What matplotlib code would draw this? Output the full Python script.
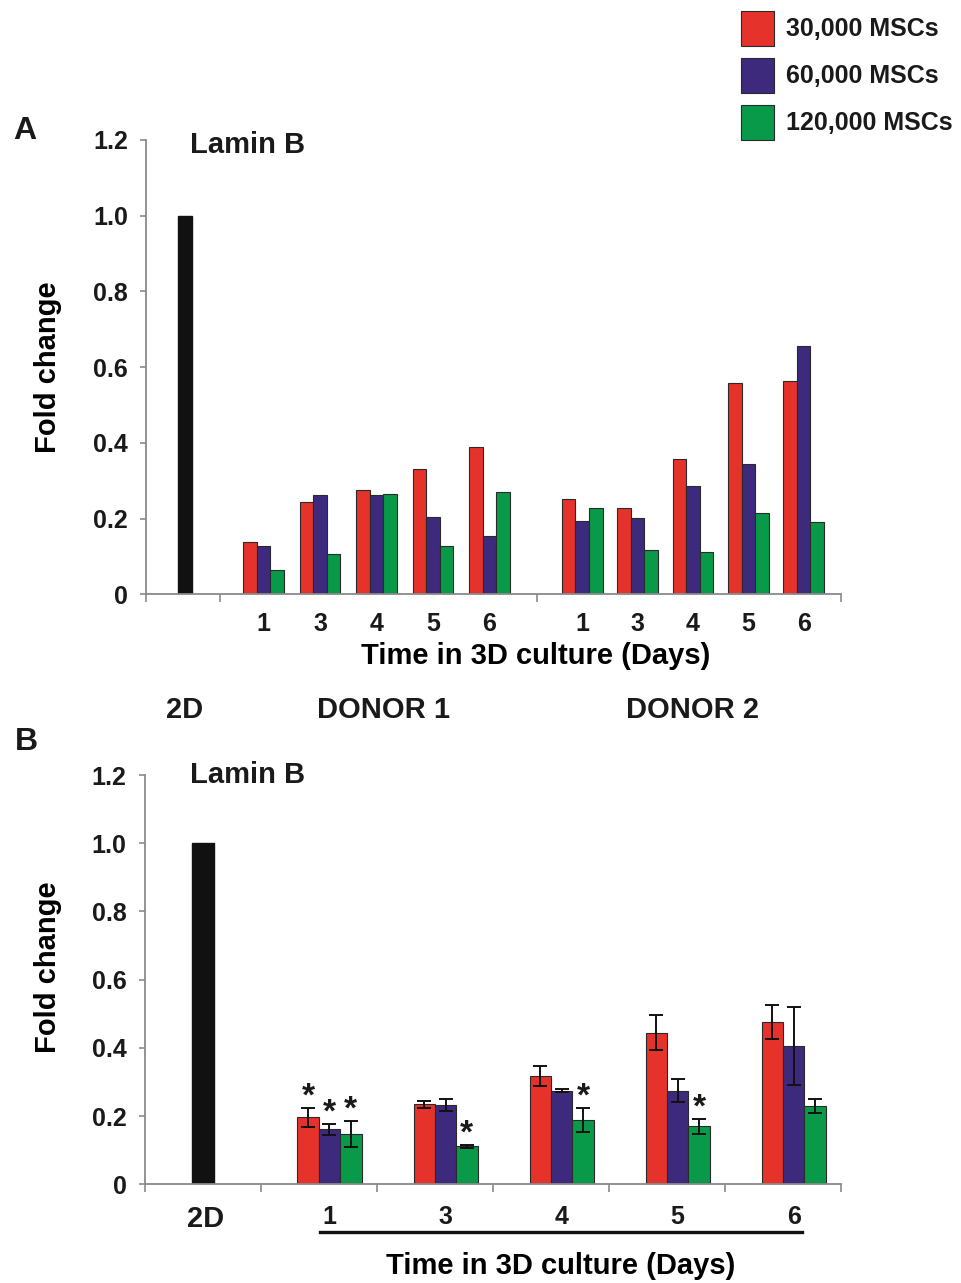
import numpy as np
import matplotlib
matplotlib.use('Agg')
import matplotlib.pyplot as plt
import matplotlib.transforms as mtransforms

plt.rcParams['font.family'] = ['Liberation Sans', 'DejaVu Sans']
plt.rcParams['font.weight'] = 'bold'
plt.rcParams['text.color'] = '#1a1a1a'

# ---- data ----
days = ['1', '3', '4', '5', '6']
series_labels = ['30,000 MSCs', '60,000 MSCs', '120,000 MSCs']
colors = ['#e5322b', '#3d2a7c', '#089a48']
ref_2d = 1.0

# panel A: single donors
a_donor1_30k = [0.139, 0.245, 0.276, 0.332, 0.388]
a_donor1_60k = [0.128, 0.261, 0.263, 0.204, 0.153]
a_donor1_120k = [0.064, 0.106, 0.264, 0.128, 0.271]
a_donor2_30k = [0.252, 0.227, 0.357, 0.557, 0.563]
a_donor2_60k = [0.194, 0.201, 0.285, 0.345, 0.656]
a_donor2_120k = [0.227, 0.117, 0.112, 0.214, 0.190]

# panel B: mean +/- error
b_mean_30k = [0.196, 0.235, 0.317, 0.445, 0.476]
b_err_30k = [0.027, 0.010, 0.029, 0.052, 0.049]
b_mean_60k = [0.161, 0.232, 0.275, 0.275, 0.405]
b_err_60k = [0.016, 0.017, 0.004, 0.035, 0.114]
b_mean_120k = [0.147, 0.112, 0.188, 0.171, 0.230]
b_err_120k = [0.038, 0.004, 0.035, 0.022, 0.021]
b_star_30k = [True, False, False, False, False]
b_star_60k = [True, False, False, False, False]
b_star_120k = [True, True, True, True, False]

yticks = [0, 0.2, 0.4, 0.6, 0.8, 1.0, 1.2]
ytick_labels = ['0', '0.2', '0.4', '0.6', '0.8', '1.0', '1.2']
axis_grey = '#8a8a8a'
edge = '#2a2a2a'


def style_axes(ax):
    for s in ['top', 'right']:
        ax.spines[s].set_visible(False)
    for s in ['left', 'bottom']:
        ax.spines[s].set_color(axis_grey)
        ax.spines[s].set_linewidth(1.3)
    ax.set_ylim(0, 1.2)
    ax.set_yticks(yticks)
    ax.set_yticklabels(ytick_labels)
    ax.tick_params(axis='y', colors=axis_grey, length=4, width=1.2, pad=9,
                   labelsize=18, labelcolor='#1a1a1a')
    ax.tick_params(axis='x', which='major', length=0, labelsize=18,
                   labelcolor='#1a1a1a')
    ax.tick_params(axis='x', which='minor', colors=axis_grey, length=6,
                   width=1.2, direction='out')
    ax.set_ylabel('Fold change', fontsize=21, fontweight='bold')
    ax.yaxis.label.set_va('center')


fig = plt.figure(figsize=(9.61, 12.83), dpi=100)

# ---------------- panel A ----------------
axA = fig.add_axes([0.1519, 0.5368, 0.7232, 0.3541])
w = 0.24
d1_pos = 2.08 + np.arange(len(days))
d2_pos = 7.72 + np.arange(len(days)) * 0.98
axA.bar([0.69], [ref_2d], 0.25, color='#111111', edgecolor='#111111')
handles = []
for k, (v1, v2) in enumerate([(a_donor1_30k, a_donor2_30k),
                              (a_donor1_60k, a_donor2_60k),
                              (a_donor1_120k, a_donor2_120k)]):
    off = (k - 1) * w
    h = axA.bar(d1_pos + off, v1, w, color=colors[k], edgecolor=edge,
                linewidth=0.8, label=series_labels[k])
    axA.bar(d2_pos + off, v2, w, color=colors[k], edgecolor=edge, linewidth=0.8)
    handles.append(h)
axA.set_xlim(0, 12.3)
style_axes(axA)
axA.set_xticks(np.concatenate([d1_pos, d2_pos]))
axA.set_xticklabels(days + days)
axA.set_xticks([0, 1.31, 6.92, 12.3], minor=True)
axA.tick_params(axis='x', which='major', pad=13)
axA.yaxis.set_label_coords(-0.141, 0.5)
axA.set_xlabel('Time in 3D culture (Days)', fontsize=21, fontweight='bold')
axA.xaxis.label.set_va('center')
axA.xaxis.set_label_coords(0.561, -0.136)
trA = mtransforms.blended_transform_factory(axA.transData, axA.transAxes)
axA.text(0.69, -0.255, '2D', transform=trA, ha='center', va='center', fontsize=21)
axA.text(4.2, -0.255, 'DONOR 1', transform=trA, ha='center', va='center', fontsize=21)
axA.text(9.68, -0.255, 'DONOR 2', transform=trA, ha='center', va='center', fontsize=21)
axA.text(0.063, 0.989, 'Lamin B', transform=axA.transAxes, ha='left', va='center',
         fontsize=21)

# ---------------- panel B ----------------
axB = fig.add_axes([0.1506, 0.0769, 0.7246, 0.319])
wb = 0.184
cat = np.arange(1, len(days) + 1)
axB.bar([0], [ref_2d], 0.19, color='#111111', edgecolor='#111111')
for k, (m, e, st) in enumerate([(b_mean_30k, b_err_30k, b_star_30k),
                                (b_mean_60k, b_err_60k, b_star_60k),
                                (b_mean_120k, b_err_120k, b_star_120k)]):
    x = cat + (k - 0.5) * wb
    axB.bar(x, m, wb, color=colors[k], edgecolor=edge, linewidth=0.8)
    axB.errorbar(x, m, yerr=e, fmt='none', ecolor='#111111', elinewidth=1.4,
                 capsize=5, capthick=1.4)
    for xi, mi, ei, s in zip(x, m, e, st):
        if s:
            axB.text(xi, mi + ei + 0.032, '*', ha='center', va='center',
                     fontsize=24)
axB.set_xlim(-0.5, 5.5)
style_axes(axB)
group_centers = cat + 0.5 * wb
axB.set_xticks(np.concatenate([[0.02], group_centers]))
axB.set_xticklabels(['2D'] + days)
axB.get_xticklabels()[0].set_fontsize(21)
axB.set_xticks(np.arange(-0.5, 5.6, 1), minor=True)
axB.tick_params(axis='x', which='major', pad=15)
axB.yaxis.set_label_coords(-0.139, 0.531)
axB.set_xlabel('Time in 3D culture (Days)', fontsize=21, fontweight='bold')
axB.xaxis.label.set_va('center')
axB.xaxis.set_label_coords(0.597, -0.2)
trB = mtransforms.blended_transform_factory(axB.transData, axB.transAxes)
axB.plot([1.01, 5.16], [-0.1165, -0.1165], color='#111111', lw=2.4,
         transform=trB, clip_on=False)
axB.text(0.065, 1.0, 'Lamin B', transform=axB.transAxes, ha='left', va='center',
         fontsize=21)

# panel letters
fig.text(25 / 961, 1 - 131 / 1283, 'A', ha='center', va='center', fontsize=23)
fig.text(26 / 961, 1 - 742 / 1283, 'B', ha='center', va='center', fontsize=23)

# legend
leg = fig.legend(handles, series_labels, loc='upper left',
                 bbox_to_anchor=(741 / 961, 1 - 11 / 1283), frameon=False,
                 fontsize=18, handlelength=1.32, handleheight=1.75,
                 labelspacing=0.5, handletextpad=0.5, borderpad=0,
                 borderaxespad=0)

fig.savefig('out.png', dpi=100)
